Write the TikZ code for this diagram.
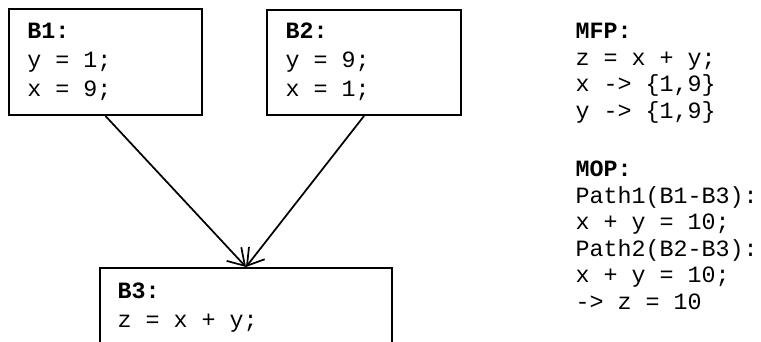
\documentclass[tikz,border=0pt]{standalone}
\usepackage{fontspec}
\setmonofont{Liberation Mono}
\usetikzlibrary{arrows.meta,fit}

\tikzset{every picture/.style={line width=0.75pt}}
\tikzset{
  block/.style={draw, line width=1.5pt, inner sep=0pt},
  code/.style={font=\ttfamily\fontsize{17.5}{21.75}\selectfont, align=left, anchor=base west, inner sep=0pt},
  note/.style={font=\ttfamily\fontsize{17.5}{19.9}\selectfont, align=left, anchor=base west, inner sep=0pt},
  flow/.style={line width=1.3pt, -{Straight Barb[length=12pt,width=15pt]}},
}

\begin{document}
\begin{tikzpicture}[x=0.75pt,y=0.75pt,yscale=-1,xscale=1]
\useasboundingbox (0,0) rectangle (761,342);

% Blocks
\node [block, fit={(9,9) (202,115)}] (b1) {};
\node [block, fit={(267,10) (461,115)}] (b2) {};
\node [block, fit={(100,268) (392,380)}] (b3) {};

% Block text (anchored on the last line)
\node [code] (b1text) at (27,97) {\textbf{B1:}\\y = 1;\\x = 9;};
\node [code] (b2text) at (285,97) {\textbf{B2:}\\y = 9;\\x = 1;};
\node [code] (b3text) at (117,327) {\textbf{B3:}\\z = x + y;};

% Edges
\draw [flow] (b1.south) -- (b3.north);
\draw [flow] (b2.south) -- (b3.north);

% Results
\node [note] (mfp) at (575,118.5) {\textbf{MFP:}\\z = x + y;\\x -> \{1,9\}\\y -> \{1,9\}};
\node [note] (mop) at (575,309.5) {\textbf{MOP:}\\Path1(B1-B3):\\x + y = 10;\\Path2(B2-B3):\\x + y = 10;\\-> z = 10};

\end{tikzpicture}
\end{document}
